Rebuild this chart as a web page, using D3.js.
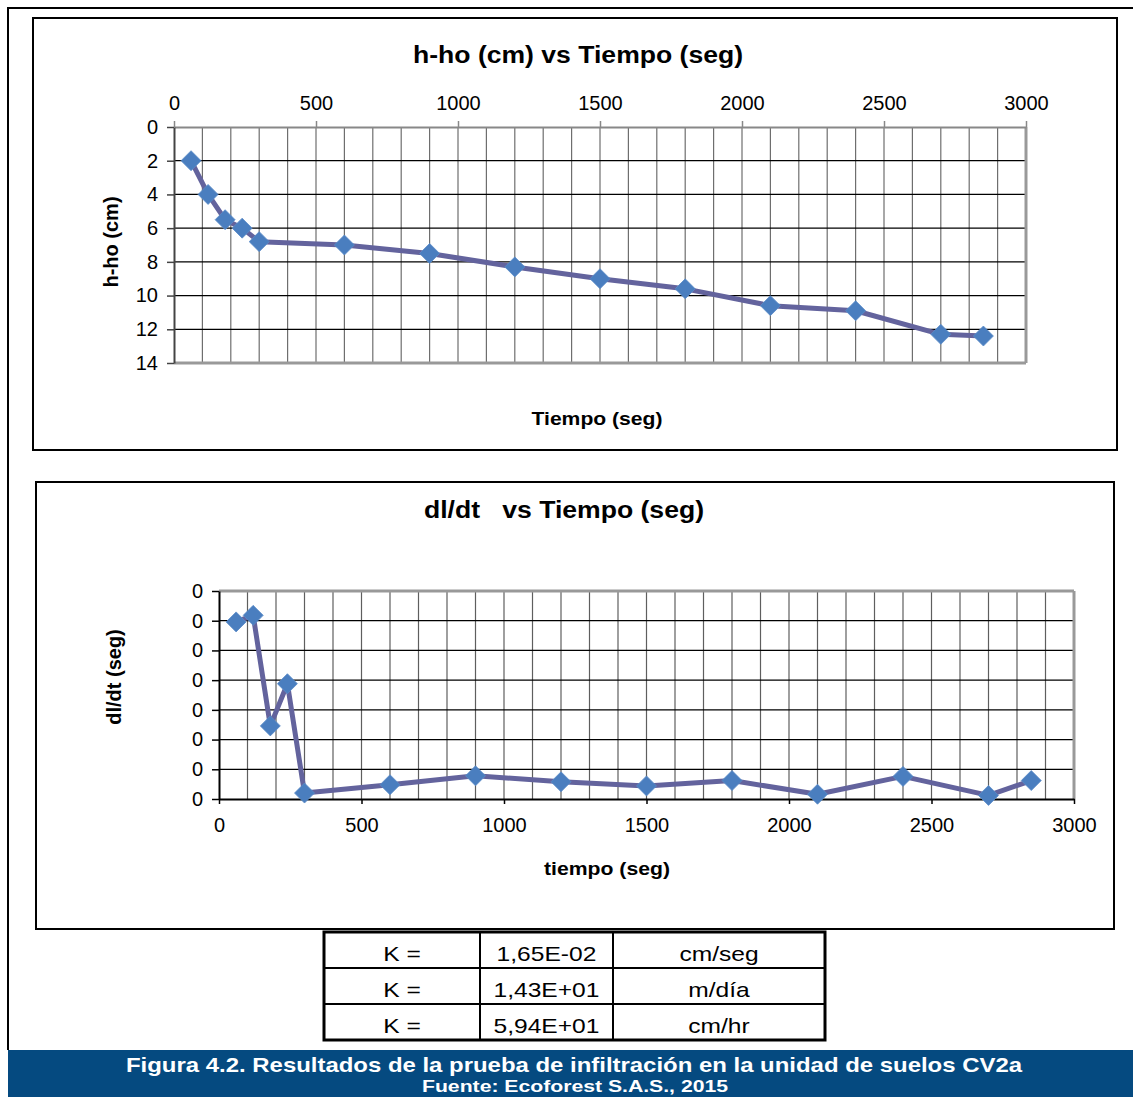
<!DOCTYPE html>
<html>
<head>
<meta charset="utf-8">
<script src="https://cdn.jsdelivr.net/npm/d3@7/dist/d3.min.js"></script>
<style>
  html, body { margin: 0; padding: 0; background: #fff; }
  svg { display: block; }
  text { font-family: "Liberation Sans", Arial, sans-serif; fill: #000; }
</style>
</head>
<body>
<svg id="chart" width="1133" height="1097"></svg>
<script>
// ---------- DATA ----------
const tiempo = [60, 120, 180, 240, 300, 600, 900, 1200, 1500, 1800, 2100, 2400, 2700, 2850];
const hho = [2.0, 4.0, 5.5, 6.0, 6.8, 7.0, 7.5, 8.3, 9.0, 9.6, 10.6, 10.9, 12.3, 12.4];
const dldt = [0.0298, 0.0309, 0.0123, 0.0194, 0.0010, 0.0024, 0.0039, 0.0029, 0.0022, 0.0031, 0.0008, 0.0038, 0.0006, 0.0031];
const xTicks = [0, 500, 1000, 1500, 2000, 2500, 3000];
const hTicks = [0, 2, 4, 6, 8, 10, 12, 14];
const dTicks = [0, 0.005, 0.01, 0.015, 0.02, 0.025, 0.03, 0.035];
const titleTop = "h-ho (cm) vs Tiempo (seg)";
const titleBottom = "dl/dt   vs Tiempo (seg)";
const tableRows = [["K =", "1,65E-02", "cm/seg"], ["K =", "1,43E+01", "m/día"], ["K =", "5,94E+01", "cm/hr"]];
const caption1 = "Figura 4.2. Resultados de la prueba de infiltración en la unidad de suelos CV2a";
const caption2 = "Fuente: Ecoforest S.A.S., 2015";

const svg = d3.select("#chart");
const LINE = "#63639d", MARK = "#4a7ebf";
const FONT = '"Liberation Sans", Arial, sans-serif';
const fmtX = d3.format("d");

// page frame
svg.append("line").attr("x1", 8).attr("x2", 8).attr("y1", 7).attr("y2", 1050).attr("stroke", "#000").attr("stroke-width", 2);
svg.append("line").attr("x1", 7).attr("x2", 1133).attr("y1", 8).attr("y2", 8).attr("stroke", "#000").attr("stroke-width", 2);

// chart boxes
svg.append("rect").attr("x", 33).attr("y", 18).attr("width", 1084).attr("height", 432).attr("fill", "#fff").attr("stroke", "#000").attr("stroke-width", 2);
svg.append("rect").attr("x", 36).attr("y", 482).attr("width", 1078).attr("height", 447).attr("fill", "#fff").attr("stroke", "#000").attr("stroke-width", 2);

function diamond(g, pts) {
  const r = 10;
  g.selectAll("path.mk").data(pts).join("path").attr("class", "mk")
    .attr("d", d => `M${d[0]},${d[1]-r}L${d[0]+r},${d[1]}L${d[0]},${d[1]+r}L${d[0]-r},${d[1]}Z`)
    .attr("fill", MARK).attr("stroke", "#5a8cc8").attr("stroke-width", 0.8);
}

// ---------- TOP CHART ----------
{
  const x = d3.scaleLinear().domain([0, 3000]).range([174, 1026]);
  const y = d3.scaleLinear().domain([0, 14]).range([127, 363]);
  const g = svg.append("g");
  g.selectAll("line.vg").data(d3.range(100, 3001, 100)).join("line").attr("class", "vg")
    .attr("x1", d => x(d)).attr("x2", d => x(d)).attr("y1", y(0)).attr("y2", y(14))
    .attr("stroke", "#6e6e6e").attr("stroke-width", 1.2);
  g.selectAll("line.hg").data(hTicks.slice(1, -1)).join("line").attr("class", "hg")
    .attr("x1", x(0)).attr("x2", x(3000)).attr("y1", d => y(d)).attr("y2", d => y(d))
    .attr("stroke", "#000").attr("stroke-width", 1.2);
  g.append("line").attr("x1", x(0)).attr("x2", x(3000)).attr("y1", y(14)).attr("y2", y(14)).attr("stroke", "#999").attr("stroke-width", 3);
  g.append("line").attr("x1", x(3000)).attr("x2", x(3000)).attr("y1", y(0)).attr("y2", y(14)).attr("stroke", "#999").attr("stroke-width", 3);
  const ax = g.append("g").attr("transform", `translate(0,${y(0)})`)
    .call(d3.axisTop(x).tickValues(xTicks).tickFormat(fmtX).tickSize(6).tickPadding(11).tickSizeOuter(0));
  ax.select(".domain").attr("stroke", "#888").attr("stroke-width", 2);
  ax.selectAll(".tick line").attr("stroke", "#888").attr("stroke-width", 1.5);
  ax.selectAll("text").attr("font-size", 20).attr("font-family", FONT);
  const ay = g.append("g").attr("transform", `translate(${x(0)},0)`)
    .call(d3.axisLeft(y).tickValues(hTicks).tickSize(7).tickPadding(9).tickSizeOuter(0));
  ay.select(".domain").attr("stroke", "#444").attr("stroke-width", 2);
  ay.selectAll(".tick line").attr("stroke", "#444").attr("stroke-width", 1.5);
  ay.selectAll("text").attr("font-size", 20).attr("font-family", FONT);
  const pts = tiempo.map((t, i) => [x(t), y(hho[i])]);
  g.append("path").attr("d", d3.line()(pts)).attr("fill", "none").attr("stroke", LINE).attr("stroke-width", 5).attr("stroke-linejoin", "round");
  diamond(g, pts);
  g.append("text").attr("x", 578).attr("y", 63).attr("text-anchor", "middle").attr("font-size", 23).attr("font-weight", "bold")
    .attr("textLength", 330).attr("lengthAdjust", "spacingAndGlyphs").text(titleTop);
  g.append("text").attr("x", 597).attr("y", 425).attr("text-anchor", "middle").attr("font-size", 19).attr("font-weight", "bold")
    .attr("textLength", 131).attr("lengthAdjust", "spacingAndGlyphs").text("Tiempo (seg)");
  g.append("text").attr("transform", "translate(111,242) rotate(-90)").attr("dy", "0.35em").attr("text-anchor", "middle")
    .attr("font-size", 20).attr("font-weight", "bold").text("h-ho (cm)");
}

// ---------- BOTTOM CHART ----------
{
  const x = d3.scaleLinear().domain([0, 3000]).range([219, 1074]);
  const y = d3.scaleLinear().domain([0, 0.035]).range([799, 591]);
  const g = svg.append("g");
  g.selectAll("line.vg").data(d3.range(100, 3001, 100)).join("line").attr("class", "vg")
    .attr("x1", d => x(d)).attr("x2", d => x(d)).attr("y1", y(0)).attr("y2", y(0.035))
    .attr("stroke", "#5e5e5e").attr("stroke-width", 1.2);
  g.selectAll("line.hg").data(dTicks.slice(1, -1)).join("line").attr("class", "hg")
    .attr("x1", x(0)).attr("x2", x(3000)).attr("y1", d => y(d)).attr("y2", d => y(d))
    .attr("stroke", "#000").attr("stroke-width", 1.2);
  g.append("line").attr("x1", x(0)).attr("x2", x(3000)).attr("y1", y(0.035)).attr("y2", y(0.035)).attr("stroke", "#999").attr("stroke-width", 3);
  g.append("line").attr("x1", x(3000)).attr("x2", x(3000)).attr("y1", y(0)).attr("y2", y(0.035)).attr("stroke", "#999").attr("stroke-width", 3);
  const ax = g.append("g").attr("transform", `translate(0,${y(0)})`)
    .call(d3.axisBottom(x).tickValues(xTicks).tickFormat(fmtX).tickSize(5).tickPadding(14).tickSizeOuter(0));
  ax.select(".domain").attr("stroke", "#000").attr("stroke-width", 2);
  ax.selectAll(".tick line").attr("stroke", "#000").attr("stroke-width", 1.5);
  ax.selectAll("text").attr("font-size", 20).attr("font-family", FONT);
  const ay = g.append("g").attr("transform", `translate(${x(0)},0)`)
    .call(d3.axisLeft(y).tickValues(dTicks).tickFormat(d3.format(".0f")).tickSize(7).tickPadding(9).tickSizeOuter(0));
  ay.select(".domain").attr("stroke", "#000").attr("stroke-width", 2);
  ay.selectAll(".tick line").attr("stroke", "#000").attr("stroke-width", 1.5);
  ay.selectAll("text").attr("font-size", 20).attr("font-family", FONT);
  const pts = tiempo.map((t, i) => [x(t), y(dldt[i])]);
  g.append("path").attr("d", d3.line()(pts)).attr("fill", "none").attr("stroke", LINE).attr("stroke-width", 5).attr("stroke-linejoin", "round");
  diamond(g, pts);
  g.append("text").attr("x", 564).attr("y", 518).attr("text-anchor", "middle").attr("font-size", 23).attr("font-weight", "bold")
    .attr("xml:space", "preserve").style("white-space", "pre")
    .attr("textLength", 280).attr("lengthAdjust", "spacingAndGlyphs").text(titleBottom);
  g.append("text").attr("x", 607).attr("y", 875).attr("text-anchor", "middle").attr("font-size", 19).attr("font-weight", "bold")
    .attr("textLength", 126).attr("lengthAdjust", "spacingAndGlyphs").text("tiempo (seg)");
  g.append("text").attr("transform", "translate(114,677) rotate(-90)").attr("dy", "0.35em").attr("text-anchor", "middle")
    .attr("font-size", 20).attr("font-weight", "bold").text("dl/dt (seg)");
}

// ---------- TABLE ----------
{
  const colX = [324, 480, 613, 825];
  const rowY = d3.scaleLinear().domain([0, 3]).range([932, 1040]);
  const g = svg.append("g");
  g.append("rect").attr("fill", "#fff").attr("x", colX[0]).attr("y", rowY(0)).attr("width", colX[3] - colX[0]).attr("height", rowY(3) - rowY(0));
  [1, 2].forEach(r => g.append("line").attr("x1", colX[0]).attr("x2", colX[3]).attr("y1", rowY(r)).attr("y2", rowY(r)).attr("stroke", "#000").attr("stroke-width", 2));
  [1, 2].forEach(c => g.append("line").attr("x1", colX[c]).attr("x2", colX[c]).attr("y1", rowY(0)).attr("y2", rowY(3)).attr("stroke", "#000").attr("stroke-width", 2));
  g.append("rect").attr("fill", "none").attr("stroke", "#000").attr("stroke-width", 3)
    .attr("x", colX[0]).attr("y", rowY(0)).attr("width", colX[3] - colX[0]).attr("height", rowY(3) - rowY(0));
  tableRows.forEach((row, r) => {
    row.forEach((cell, c) => {
      const t = g.append("text").attr("x", (colX[c] + colX[c + 1]) / 2).attr("y", rowY(r) + 29)
        .attr("text-anchor", "middle").attr("font-size", 21).text(cell);
      const w = t.node().getComputedTextLength();
      t.attr("textLength", w * 1.17).attr("lengthAdjust", "spacingAndGlyphs");
    });
  });
}

// ---------- CAPTION ----------
{
  const g = svg.append("g");
  g.append("rect").attr("x", 8).attr("y", 1050).attr("width", 1125).attr("height", 47).attr("fill", "#054a80");
  g.append("text").attr("x", 574).attr("y", 1072).attr("text-anchor", "middle").attr("font-size", 21).attr("font-weight", "bold")
    .style("fill", "#fff").attr("textLength", 896).attr("lengthAdjust", "spacingAndGlyphs").text(caption1);
  g.append("text").attr("x", 575).attr("y", 1092).attr("text-anchor", "middle").attr("font-size", 16).attr("font-weight", "bold")
    .style("fill", "#fff").attr("textLength", 306).attr("lengthAdjust", "spacingAndGlyphs").text(caption2);
}
</script>
</body>
</html>
